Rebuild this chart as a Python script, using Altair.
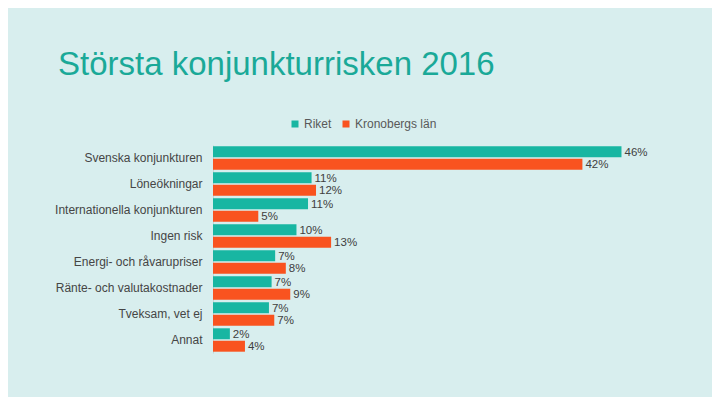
import altair as alt
import pandas as pd

categories = [
    "Svenska konjunkturen",
    "Löneökningar",
    "Internationella konjunkturen",
    "Ingen risk",
    "Energi- och råvarupriser",
    "Ränte- och valutakostnader",
    "Tveksam, vet ej",
    "Annat",
]
series = ["Riket", "Kronobergs län"]
riket_values = [46.0, 11.1, 10.7, 9.4, 7.0, 6.6, 6.3, 1.9]
kron_values = [41.6, 11.6, 5.1, 13.3, 8.2, 8.7, 6.9, 3.6]
riket_labels = ["46%", "11%", "11%", "10%", "7%", "7%", "7%", "2%"]
kron_labels = ["42%", "12%", "5%", "13%", "8%", "9%", "7%", "4%"]
colors = ["#18b6a2", "#f9531f"]

rows = []
for c, v, l in zip(categories, riket_values, riket_labels):
    rows.append({"category": c, "series": series[0], "value": v, "label": l})
for c, v, l in zip(categories, kron_values, kron_labels):
    rows.append({"category": c, "series": series[1], "value": v, "label": l})
df = pd.DataFrame(rows)

FONT = "Liberation Sans"

y_enc = alt.Y(
    "category:N",
    sort=categories,
    scale=alt.Scale(paddingInner=0.1, paddingOuter=0.05),
    axis=alt.Axis(
        title=None,
        ticks=False,
        labelPadding=11,
        labelFontSize=12,
        labelColor="#454545",
        labelFont=FONT,
        labelLimit=300,
        domainColor="#c3d6d6",
        grid=False,
    ),
)
yoff = alt.YOffset("series:N", sort=series, scale=alt.Scale(paddingInner=0.12))
x_enc = alt.X("value:Q", scale=alt.Scale(domain=[0, 50]), axis=None)

bars = alt.Chart(df).mark_bar().encode(
    x=x_enc,
    y=y_enc,
    yOffset=yoff,
    color=alt.Color(
        "series:N",
        scale=alt.Scale(domain=series, range=colors),
        legend=alt.Legend(
            title=None,
            orient="none",
            legendX=76,
            legendY=-27,
            direction="horizontal",
            symbolType="square",
            symbolSize=49,
            symbolStrokeWidth=0,
            labelFontSize=12,
            labelColor="#595959",
            labelFont=FONT,
            columnPadding=8,
            labelOffset=3,
        ),
    ),
)

labels = alt.Chart(df).mark_text(
    align="left", baseline="middle", dx=3, dy=1, fontSize=11.5, font=FONT, color="#404040"
).encode(
    x=x_enc,
    y=y_enc,
    yOffset=yoff,
    text="label:N",
)

chart = (
    alt.layer(bars, labels)
    .properties(
        width=444,
        height=208,
        background="#d8eeee",
        padding={"left": 205, "top": 137, "right": 55, "bottom": 44},
        autosize=alt.AutoSizeParams(type="none"),
        title=alt.TitleParams(
            "Största konjunkturrisken 2016",
            anchor="start",
            frame="group",
            dx=-155,
            offset=36,
            fontSize=33,
            font=FONT,
            fontWeight="normal",
            color="#1aa998",
        ),
    )
    .configure_view(stroke=None)
)

chart.save("out.html", embed_options={"renderer": "svg", "actions": False})
